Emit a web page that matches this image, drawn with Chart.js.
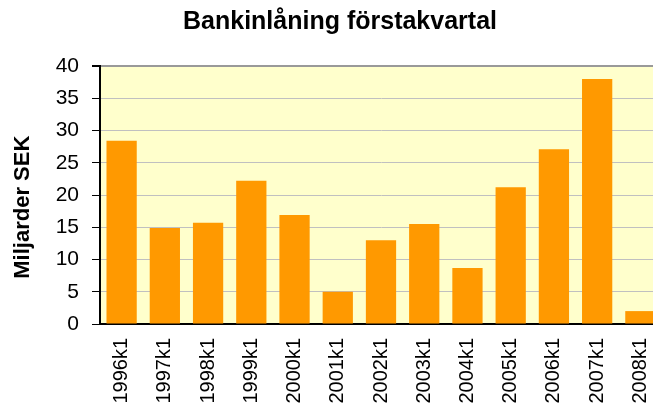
<!DOCTYPE html>
<html>
<head>
<meta charset="utf-8">
<script src="https://cdn.jsdelivr.net/npm/chart.js@4/dist/chart.umd.min.js"></script>
<style>
  html, body { margin: 0; padding: 0; background: #fff; overflow: hidden; }
  #wrap { width: 680px; height: 406px; }
</style>
</head>
<body>
<div id="wrap"><canvas id="myChart" width="680" height="406"></canvas></div>
<script>
// data
var labels = ['1996k1', '1997k1', '1998k1', '1999k1', '2000k1', '2001k1', '2002k1',
              '2003k1', '2004k1', '2005k1', '2006k1', '2007k1', '2008k1'];
var lending = [28.4, 14.9, 15.7, 22.2, 16.9, 5.0, 13.0, 15.5, 8.7, 21.2, 27.1, 38.0, 2.0];
var yTicks = [0, 5, 10, 15, 20, 25, 30, 35, 40];

// pale yellow plot background
var plotBg = {
  id: 'plotBg',
  beforeDraw: function (chart) {
    var a = chart.chartArea, c = chart.ctx;
    c.save();
    c.fillStyle = '#FFFFCC';
    c.fillRect(a.left, a.top, a.right - a.left, a.bottom - a.top);
    c.restore();
  }
};

var ctx = document.getElementById('myChart').getContext('2d');
var chart = new Chart(ctx, {
  type: 'bar',
  data: {
    labels: labels,
    datasets: [{
      label: 'Bankinlåning',
      backgroundColor: '#FF9900',
      borderWidth: 0,
      data: lending,
      categoryPercentage: 1,
      barPercentage: 0.7
    }]
  },
  options: {
    responsive: false,
    animation: false,
    layout: { padding: 0 },
    plugins: {
      legend: { display: false },
      tooltip: { enabled: false },
      title: {
        display: true,
        text: 'Bankinlåning förstakvartal',
        color: '#000',
        font: { family: 'Liberation Sans', size: 25, weight: 'bold' },
        padding: { top: 7, bottom: 29 }
      }
    },
    scales: {
      x: {
        grid: { display: false, drawTicks: false },
        border: { color: '#000', width: 2 },
        ticks: {
          color: '#000',
          font: { family: 'Liberation Sans', size: 20 },
          minRotation: 90,
          maxRotation: 90,
          padding: 14,
          autoSkip: false
        },
        afterFit: function (s) { s.height = 82; }
      },
      y: {
        min: 0,
        max: 40,
        afterBuildTicks: function (s) {
          s.ticks = yTicks.map(function (v) { return { value: v }; });
        },
        grid: {
          color: function (c) { return c.tick && c.tick.value === 40 ? '#999999' : '#C0C0C0'; },
          lineWidth: function (c) { return c.tick && c.tick.value === 40 ? 2 : 1; },
          tickColor: '#000',
          tickLength: 8
        },
        border: { color: '#000', width: 2 },
        ticks: {
          color: '#000',
          font: { family: 'Liberation Sans', size: 21 },
          padding: 13
        },
        title: {
          display: true,
          text: 'Miljarder SEK    ',
          color: '#000',
          font: { family: 'Liberation Sans', size: 22, weight: 'bold' },
          padding: { top: 10, bottom: 0 }
        },
        afterFit: function (s) { s.width = 100; }
      },
      // empty right-hand axis, only keeps room right of the plot
      yRight: {
        position: 'right',
        display: true,
        grid: { display: false, drawTicks: false },
        border: { display: false },
        ticks: { display: false },
        afterFit: function (s) { s.width = 18; }
      }
    }
  },
  plugins: [plotBg]
});
</script>
</body>
</html>
